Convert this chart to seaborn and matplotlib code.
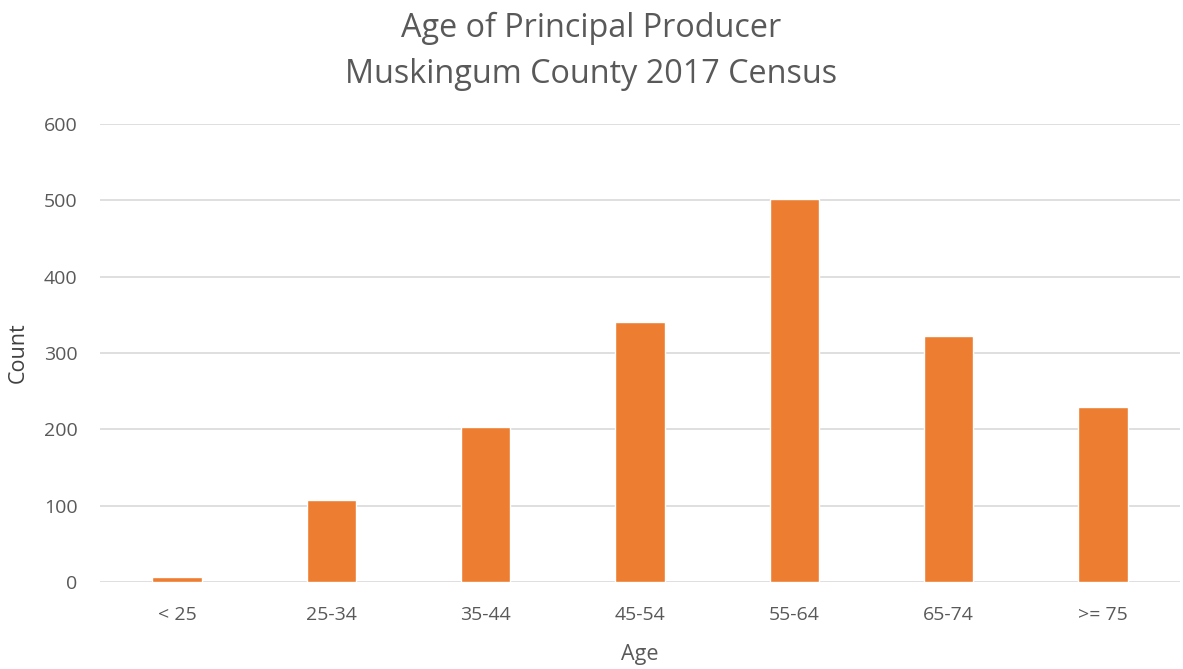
import matplotlib
matplotlib.use("Agg")
import matplotlib.pyplot as plt
import seaborn as sns
import pandas as pd

age_groups = ['< 25', '25-34', '35-44', '45-54', '55-64', '65-74', '>= 75']
counts = [6, 107, 203, 341, 502, 322, 229]
y_ticks = [0, 100, 200, 300, 400, 500, 600]

text_grey = '#595959'
label_grey = '#404040'
bar_orange = '#ED7D31'

sns.set_style("white")
plt.rcParams['font.family'] = ['Open Sans', 'DejaVu Sans']

df = pd.DataFrame({'Age': age_groups, 'Count': counts})

fig = plt.figure(figsize=(11.83, 6.69), dpi=100)
ax = fig.add_axes([0.0845, 0.13, 0.913, 0.685])
sns.barplot(data=df, x='Age', y='Count', color=bar_orange, width=0.32,
            saturation=1, ax=ax, zorder=3)

ax.set_ylim(0, 600)
ax.set_yticks(y_ticks)
ax.grid(axis='y', color='#D9D9D9', linewidth=1.2, zorder=0)
for s in ax.spines.values():
    s.set_visible(False)
ax.tick_params(axis='both', length=0, labelsize=14, colors=text_grey)
ax.tick_params(axis='x', pad=17)
ax.tick_params(axis='y', pad=16)
ax.set_xlabel('Age', fontsize=15.5, color=text_grey, labelpad=15)
ax.set_ylabel('Count', fontsize=15.5, color=label_grey, labelpad=11)

fig.text(0.5, 0.958, 'Age of Principal Producer', ha='center', va='center',
         fontsize=23.3, color=text_grey)
fig.text(0.5, 0.888, 'Muskingum County 2017 Census', ha='center', va='center',
         fontsize=23.3, color=text_grey)

fig.savefig('out.png', dpi=100)
